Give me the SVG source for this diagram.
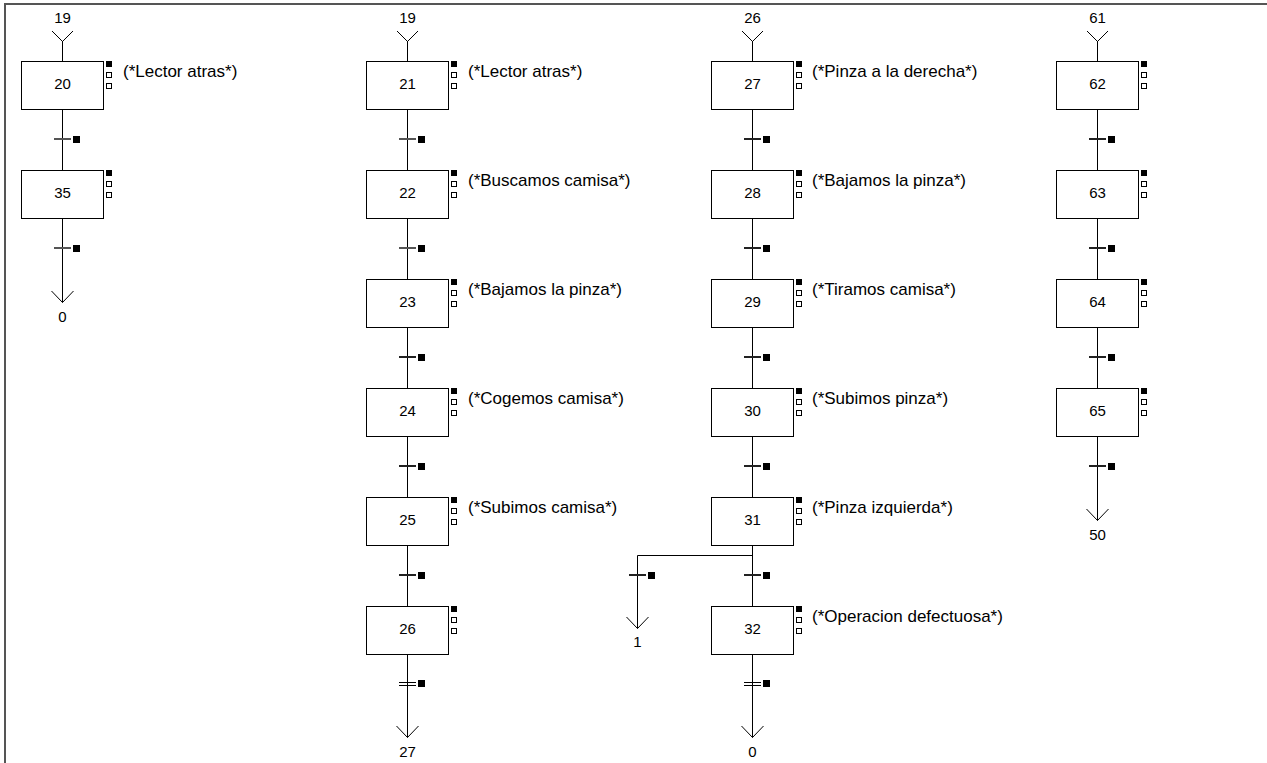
<svg xmlns="http://www.w3.org/2000/svg" width="1267" height="763" viewBox="0 0 1267 763">
<defs>
<style>
.box{fill:#fff;stroke:#000;stroke-width:1}
.ln{fill:none;stroke:#000;stroke-width:1}
.tr{stroke:#222;stroke-width:2}
.tr.g{stroke:#555}
.dtr{stroke:#000;stroke-width:1}
.sq{fill:#000}
.ind{fill:#fff;stroke:#000;stroke-width:1}
.num{font-family:"Liberation Sans",Arial,sans-serif;font-size:15px;fill:#000;text-anchor:middle}
.lbl{font-family:"Liberation Sans",Arial,sans-serif;font-size:17px;fill:#000}
</style>
</defs>
<rect width="1267" height="763" fill="#fff"/>
<path d="M5,763 V4 H1267" fill="none" stroke="#555" stroke-width="2"/>

<g id="connectors">
<!-- column 1 -->
<path class="ln" d="M52,31 L62.5,41.5 L73,31 M62.5,41 V61.5 M62.5,109.5 V170.5 M62.5,218.5 V302.5 M51.5,291 L62.5,302.5 L73.5,291"/>
<line class="tr g" x1="54" y1="139" x2="71" y2="139"/><rect class="sq" x="73" y="136" width="7" height="7"/>
<line class="tr g" x1="54" y1="248" x2="71" y2="248"/><rect class="sq" x="73" y="245" width="7" height="7"/>
<text class="num" x="62.5" y="23">19</text>
<text class="num" x="62.5" y="322">0</text>

<!-- column 2 -->
<path class="ln" d="M397,31 L407.5,41.5 L418,31 M407.5,41 V61.5 M407.5,109.5 V170.5 M407.5,218.5 V279.5 M407.5,327.5 V388.5 M407.5,436.5 V497.5 M407.5,545.5 V606.5 M407.5,654.5 V737.5 M396.5,726 L407.5,737.5 L418.5,726"/>
<line class="tr g" x1="399" y1="139" x2="416" y2="139"/><rect class="sq" x="418" y="136" width="7" height="7"/>
<line class="tr g" x1="399" y1="248" x2="416" y2="248"/><rect class="sq" x="418" y="245" width="7" height="7"/>
<line class="tr" x1="399" y1="357" x2="416" y2="357"/><rect class="sq" x="418" y="354" width="7" height="7"/>
<line class="tr" x1="399" y1="466" x2="416" y2="466"/><rect class="sq" x="418" y="463" width="7" height="7"/>
<line class="tr" x1="399" y1="575" x2="416" y2="575"/><rect class="sq" x="418" y="572" width="7" height="7"/>
<line class="dtr" x1="399" y1="682.5" x2="416" y2="682.5"/><line class="dtr" x1="399" y1="685.5" x2="416" y2="685.5"/><rect class="sq" x="418" y="680" width="7" height="7"/>
<text class="num" x="407.5" y="23">19</text>
<text class="num" x="407.5" y="757">27</text>

<!-- column 3 -->
<path class="ln" d="M742,31 L752.5,41.5 L763,31 M752.5,41 V61.5 M752.5,109.5 V170.5 M752.5,218.5 V279.5 M752.5,327.5 V388.5 M752.5,436.5 V497.5 M752.5,545.5 V606.5 M752.5,654.5 V737.5 M741.5,726 L752.5,737.5 L763.5,726"/>
<path class="ln" d="M752.5,555.5 H637.5 V628.5 M626.5,617 L637.5,628.5 L648.5,617"/>
<line class="tr" x1="744" y1="139" x2="761" y2="139"/><rect class="sq" x="763" y="136" width="7" height="7"/>
<line class="tr" x1="744" y1="248" x2="761" y2="248"/><rect class="sq" x="763" y="245" width="7" height="7"/>
<line class="tr" x1="744" y1="357" x2="761" y2="357"/><rect class="sq" x="763" y="354" width="7" height="7"/>
<line class="tr" x1="744" y1="466" x2="761" y2="466"/><rect class="sq" x="763" y="463" width="7" height="7"/>
<line class="tr" x1="744" y1="575" x2="761" y2="575"/><rect class="sq" x="763" y="572" width="7" height="7"/>
<line class="tr" x1="629" y1="575" x2="646" y2="575"/><rect class="sq" x="648" y="572" width="7" height="7"/>
<line class="dtr" x1="744" y1="682.5" x2="761" y2="682.5"/><line class="dtr" x1="744" y1="685.5" x2="761" y2="685.5"/><rect class="sq" x="763" y="680" width="7" height="7"/>
<text class="num" x="752.5" y="23">26</text>
<text class="num" x="637.5" y="647">1</text>
<text class="num" x="752.5" y="757">0</text>

<!-- column 4 -->
<path class="ln" d="M1087,31 L1097.5,41.5 L1108,31 M1097.5,41 V61.5 M1097.5,109.5 V170.5 M1097.5,218.5 V279.5 M1097.5,327.5 V388.5 M1097.5,436.5 V520.5 M1086.5,509 L1097.5,520.5 L1108.5,509"/>
<line class="tr" x1="1089" y1="139" x2="1106" y2="139"/><rect class="sq" x="1108" y="136" width="7" height="7"/>
<line class="tr" x1="1089" y1="248" x2="1106" y2="248"/><rect class="sq" x="1108" y="245" width="7" height="7"/>
<line class="tr" x1="1089" y1="357" x2="1106" y2="357"/><rect class="sq" x="1108" y="354" width="7" height="7"/>
<line class="tr" x1="1089" y1="466" x2="1106" y2="466"/><rect class="sq" x="1108" y="463" width="7" height="7"/>
<text class="num" x="1097.5" y="23">61</text>
<text class="num" x="1097.5" y="540">50</text>
</g>

<!-- steps column 1 -->
<g id="step20"><rect class="box" x="21.5" y="61.5" width="82" height="48"/><text class="num" x="62.5" y="89">20</text><rect class="sq" x="106" y="61" width="6" height="6"/><rect class="ind" x="106.5" y="72.5" width="5" height="5"/><rect class="ind" x="106.5" y="83.5" width="5" height="5"/><text class="lbl" x="123" y="77">(*Lector atras*)</text></g>
<g id="step35"><rect class="box" x="21.5" y="170.5" width="82" height="48"/><text class="num" x="62.5" y="198">35</text><rect class="sq" x="106" y="170" width="6" height="6"/><rect class="ind" x="106.5" y="181.5" width="5" height="5"/><rect class="ind" x="106.5" y="192.5" width="5" height="5"/></g>

<!-- steps column 2 -->
<g id="step21"><rect class="box" x="366.5" y="61.5" width="82" height="48"/><text class="num" x="407.5" y="89">21</text><rect class="sq" x="451" y="61" width="6" height="6"/><rect class="ind" x="451.5" y="72.5" width="5" height="5"/><rect class="ind" x="451.5" y="83.5" width="5" height="5"/><text class="lbl" x="468" y="77">(*Lector atras*)</text></g>
<g id="step22"><rect class="box" x="366.5" y="170.5" width="82" height="48"/><text class="num" x="407.5" y="198">22</text><rect class="sq" x="451" y="170" width="6" height="6"/><rect class="ind" x="451.5" y="181.5" width="5" height="5"/><rect class="ind" x="451.5" y="192.5" width="5" height="5"/><text class="lbl" x="468" y="186">(*Buscamos camisa*)</text></g>
<g id="step23"><rect class="box" x="366.5" y="279.5" width="82" height="48"/><text class="num" x="407.5" y="307">23</text><rect class="sq" x="451" y="279" width="6" height="6"/><rect class="ind" x="451.5" y="290.5" width="5" height="5"/><rect class="ind" x="451.5" y="301.5" width="5" height="5"/><text class="lbl" x="468" y="295">(*Bajamos la pinza*)</text></g>
<g id="step24"><rect class="box" x="366.5" y="388.5" width="82" height="48"/><text class="num" x="407.5" y="416">24</text><rect class="sq" x="451" y="388" width="6" height="6"/><rect class="ind" x="451.5" y="399.5" width="5" height="5"/><rect class="ind" x="451.5" y="410.5" width="5" height="5"/><text class="lbl" x="468" y="404">(*Cogemos camisa*)</text></g>
<g id="step25"><rect class="box" x="366.5" y="497.5" width="82" height="48"/><text class="num" x="407.5" y="525">25</text><rect class="sq" x="451" y="497" width="6" height="6"/><rect class="ind" x="451.5" y="508.5" width="5" height="5"/><rect class="ind" x="451.5" y="519.5" width="5" height="5"/><text class="lbl" x="468" y="513">(*Subimos camisa*)</text></g>
<g id="step26"><rect class="box" x="366.5" y="606.5" width="82" height="48"/><text class="num" x="407.5" y="634">26</text><rect class="sq" x="451" y="606" width="6" height="6"/><rect class="ind" x="451.5" y="617.5" width="5" height="5"/><rect class="ind" x="451.5" y="628.5" width="5" height="5"/></g>

<!-- steps column 3 -->
<g id="step27"><rect class="box" x="711.5" y="61.5" width="82" height="48"/><text class="num" x="752.5" y="89">27</text><rect class="sq" x="796" y="61" width="6" height="6"/><rect class="ind" x="796.5" y="72.5" width="5" height="5"/><rect class="ind" x="796.5" y="83.5" width="5" height="5"/><text class="lbl" x="812" y="77">(*Pinza a la derecha*)</text></g>
<g id="step28"><rect class="box" x="711.5" y="170.5" width="82" height="48"/><text class="num" x="752.5" y="198">28</text><rect class="sq" x="796" y="170" width="6" height="6"/><rect class="ind" x="796.5" y="181.5" width="5" height="5"/><rect class="ind" x="796.5" y="192.5" width="5" height="5"/><text class="lbl" x="812" y="186">(*Bajamos la pinza*)</text></g>
<g id="step29"><rect class="box" x="711.5" y="279.5" width="82" height="48"/><text class="num" x="752.5" y="307">29</text><rect class="sq" x="796" y="279" width="6" height="6"/><rect class="ind" x="796.5" y="290.5" width="5" height="5"/><rect class="ind" x="796.5" y="301.5" width="5" height="5"/><text class="lbl" x="812" y="295">(*Tiramos camisa*)</text></g>
<g id="step30"><rect class="box" x="711.5" y="388.5" width="82" height="48"/><text class="num" x="752.5" y="416">30</text><rect class="sq" x="796" y="388" width="6" height="6"/><rect class="ind" x="796.5" y="399.5" width="5" height="5"/><rect class="ind" x="796.5" y="410.5" width="5" height="5"/><text class="lbl" x="812" y="404">(*Subimos pinza*)</text></g>
<g id="step31"><rect class="box" x="711.5" y="497.5" width="82" height="48"/><text class="num" x="752.5" y="525">31</text><rect class="sq" x="796" y="497" width="6" height="6"/><rect class="ind" x="796.5" y="508.5" width="5" height="5"/><rect class="ind" x="796.5" y="519.5" width="5" height="5"/><text class="lbl" x="812" y="513">(*Pinza izquierda*)</text></g>
<g id="step32"><rect class="box" x="711.5" y="606.5" width="82" height="48"/><text class="num" x="752.5" y="634">32</text><rect class="sq" x="796" y="606" width="6" height="6"/><rect class="ind" x="796.5" y="617.5" width="5" height="5"/><rect class="ind" x="796.5" y="628.5" width="5" height="5"/><text class="lbl" x="812" y="622">(*Operacion defectuosa*)</text></g>

<!-- steps column 4 -->
<g id="step62"><rect class="box" x="1056.5" y="61.5" width="82" height="48"/><text class="num" x="1097.5" y="89">62</text><rect class="sq" x="1141" y="61" width="6" height="6"/><rect class="ind" x="1141.5" y="72.5" width="5" height="5"/><rect class="ind" x="1141.5" y="83.5" width="5" height="5"/></g>
<g id="step63"><rect class="box" x="1056.5" y="170.5" width="82" height="48"/><text class="num" x="1097.5" y="198">63</text><rect class="sq" x="1141" y="170" width="6" height="6"/><rect class="ind" x="1141.5" y="181.5" width="5" height="5"/><rect class="ind" x="1141.5" y="192.5" width="5" height="5"/></g>
<g id="step64"><rect class="box" x="1056.5" y="279.5" width="82" height="48"/><text class="num" x="1097.5" y="307">64</text><rect class="sq" x="1141" y="279" width="6" height="6"/><rect class="ind" x="1141.5" y="290.5" width="5" height="5"/><rect class="ind" x="1141.5" y="301.5" width="5" height="5"/></g>
<g id="step65"><rect class="box" x="1056.5" y="388.5" width="82" height="48"/><text class="num" x="1097.5" y="416">65</text><rect class="sq" x="1141" y="388" width="6" height="6"/><rect class="ind" x="1141.5" y="399.5" width="5" height="5"/><rect class="ind" x="1141.5" y="410.5" width="5" height="5"/></g>
</svg>
